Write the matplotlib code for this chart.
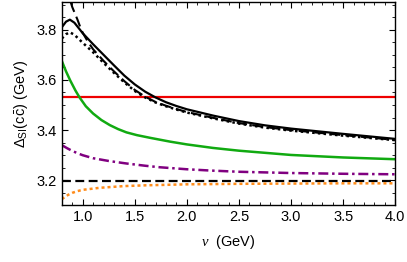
import matplotlib
matplotlib.use("Agg")
import matplotlib.pyplot as plt
from matplotlib.ticker import MultipleLocator

plt.rcParams['font.family'] = ['Liberation Sans', 'DejaVu Sans']
plt.rcParams['mathtext.fontset'] = 'custom'
plt.rcParams['mathtext.rm'] = 'Liberation Sans'
plt.rcParams['mathtext.it'] = 'Liberation Serif:italic'

# readings from the picture
nu_solid = [0.80, 0.84, 0.877, 0.92, 0.97, 1.00, 1.10, 1.20, 1.30, 1.40, 1.50, 1.60, 1.70,
            1.80, 1.90, 2.00, 2.25, 2.50, 2.75, 3.00, 3.50, 4.00]
d_solid = [3.810, 3.832, 3.840, 3.828, 3.802, 3.786, 3.742, 3.700, 3.658, 3.617, 3.582, 3.553,
           3.530, 3.511, 3.496, 3.483, 3.458, 3.436, 3.419, 3.406, 3.385, 3.365]

nu_dotted = [0.80, 0.84, 0.875, 0.92, 0.97, 1.00, 1.10, 1.20, 1.30, 1.40, 1.50, 1.60, 1.70,
             1.80, 1.90, 2.00, 2.25, 2.50, 2.75, 3.00, 3.50, 4.00]
d_dotted = [3.765, 3.782, 3.790, 3.780, 3.760, 3.748, 3.710, 3.668, 3.628, 3.590, 3.556, 3.530,
            3.510, 3.495, 3.482, 3.470, 3.447, 3.426, 3.410, 3.398, 3.378, 3.360]

nu_dashed = [0.885, 0.90, 0.925, 0.95, 0.975, 1.00, 1.05, 1.10, 1.20, 1.30, 1.40, 1.50, 1.60,
             1.70, 1.80, 1.90, 2.00, 2.25, 2.50, 2.75, 3.00, 3.50, 4.00]
d_dashed = [3.910, 3.890, 3.865, 3.840, 3.812, 3.788, 3.752, 3.722, 3.676, 3.634, 3.595, 3.560,
            3.533, 3.512, 3.497, 3.484, 3.472, 3.449, 3.428, 3.412, 3.400, 3.380, 3.361]

nu_green = [0.80, 0.84, 0.88, 0.93, 0.97, 1.03, 1.10, 1.18, 1.26, 1.34, 1.42, 1.52, 1.65,
            1.84, 2.00, 2.25, 2.50, 3.00, 3.50, 4.00]
d_green = [3.675, 3.634, 3.598, 3.558, 3.530, 3.495, 3.466, 3.440, 3.420, 3.404, 3.391, 3.380,
           3.369, 3.354, 3.343, 3.329, 3.318, 3.301, 3.291, 3.284]

nu_purple = [0.80, 0.85, 0.90, 0.95, 1.00, 1.10, 1.25, 1.42, 1.60, 1.74, 2.00, 2.22, 2.50,
             3.00, 3.50, 4.00]
d_purple = [3.340, 3.328, 3.317, 3.308, 3.300, 3.288, 3.277, 3.267, 3.258, 3.252, 3.244, 3.239,
            3.234, 3.229, 3.226, 3.224]

nu_orange = [0.80, 0.83, 0.86, 0.90, 0.95, 1.00, 1.08, 1.16, 1.26, 1.40, 1.60, 1.80, 2.00,
             2.50, 3.00, 3.50, 4.00]
d_orange = [3.125, 3.134, 3.142, 3.150, 3.157, 3.162, 3.166, 3.170, 3.173, 3.177, 3.180, 3.182,
            3.184, 3.186, 3.187, 3.188, 3.188]

d_red = 3.530
d_black_flat = 3.196
nu_range = [0.8, 4.0]

fig = plt.figure(figsize=(4.07, 2.62), dpi=100)
ax = fig.add_axes([0.152, 0.216, 0.819, 0.776])

ax.plot(nu_range, [d_red, d_red], color='#ee0000', lw=1.6)
ax.plot(nu_range, [d_black_flat, d_black_flat], color='black', lw=1.6, ls=(0, (4, 2)))
ax.plot(nu_green, d_green, color='#11aa11', lw=1.8)
ax.plot(nu_purple, d_purple, color='#800080', lw=1.8, ls=(0, (4, 1.5, 1, 1.5)))
ax.plot(nu_orange, d_orange, color='#ff8c1a', lw=1.8, ls=(0, (1.2, 1.2)))
ax.plot(nu_dotted, d_dotted, color='black', lw=1.8, ls=(0, (1, 1.3)))
ax.plot(nu_dashed, d_dashed, color='black', lw=1.5, ls=(0, (5, 2.5)))
ax.plot(nu_solid, d_solid, color='black', lw=1.6)

ax.set_xlim(0.8, 4.0)
ax.set_ylim(3.1, 3.91)
ax.xaxis.set_major_locator(MultipleLocator(0.5))
ax.xaxis.set_minor_locator(MultipleLocator(0.1))
ax.yaxis.set_major_locator(MultipleLocator(0.2))
ax.yaxis.set_minor_locator(MultipleLocator(0.05))
ax.xaxis.set_major_formatter(plt.FuncFormatter(lambda v, p: f"{v:.1f}"))
ax.yaxis.set_major_formatter(plt.FuncFormatter(lambda v, p: f"{v:.1f}"))
ax.tick_params(which='both', direction='in', top=True, right=True, labelsize=10.5)
ax.tick_params(which='major', length=4, width=0.8)
ax.tick_params(which='minor', length=2, width=0.6)
for s in ax.spines.values():
    s.set_linewidth(1.0)

ax.set_xlabel(r'$\nu$  (GeV)', fontsize=10.5, labelpad=6)
ax.set_ylabel(r'$\Delta_{\rm SI}(\mathrm{c\bar{c}})$ (GeV)', fontsize=10.5, labelpad=5)

fig.savefig('out.png', dpi=100)
